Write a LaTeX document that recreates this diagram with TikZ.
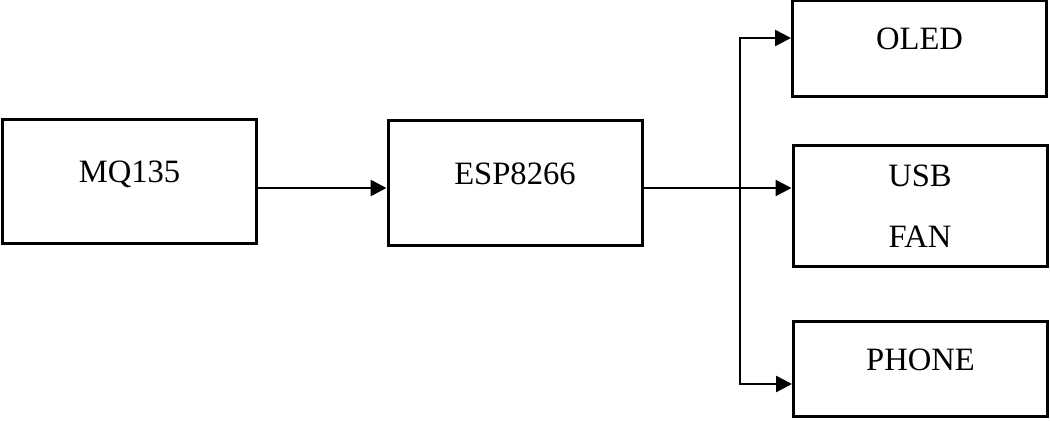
\documentclass[tikz,border=0pt]{standalone}
\usepackage{fontspec}
\setmainfont{Liberation Serif}
\usetikzlibrary{arrows.meta,positioning,calc}

\begin{document}
\begin{tikzpicture}[
  x=0.5pt, y=-0.5pt,
  font=\fontsize{16.3}{19}\selectfont,
  box/.style={draw, line width=1.5pt, minimum width=127pt, inner sep=0pt},
  blk/.style={box, text height=10.6pt, text depth=10pt},
  arr/.style={-{Triangle[length=8pt, width=8pt]}, line width=1.3pt},
]
\useasboundingbox (0,0) rectangle (1050,421);
% blocks
\node[blk, minimum height=62pt] (mq) at (129.5,182) {MQ135};
\node[blk, minimum height=62.5pt] (esp) at (515,183.5) {ESP8266};
\node[blk, minimum height=48pt] (oled) at (919.5,49) {OLED};
\node[box, minimum height=60.5pt, align=center,
  font=\fontsize{16.3}{30.5}\selectfont] (usb) at (920,206.5) {USB\\FAN};
\node[blk, minimum height=47.5pt] (phone) at (920.5,369.5) {PHONE};
% connectors
\coordinate (split) at (740,188);
\draw[arr] (mq.east |- split) -- (esp.west |- split);
\draw[arr] (esp.east |- split) -- (split) -- (split -| usb.west);
\draw[arr] (split) |- ([yshift=5.5pt]oled.west);
\draw[arr] (split) |- ([yshift=-7.25pt]phone.west);
\end{tikzpicture}
\end{document}
